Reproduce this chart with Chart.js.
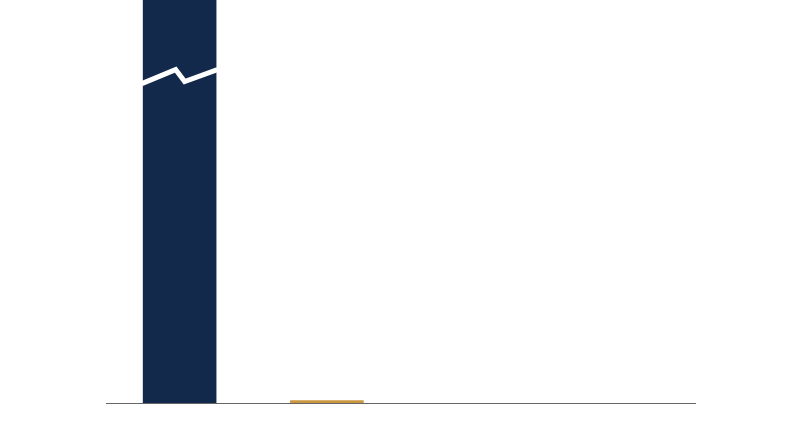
<!DOCTYPE html>
<html>
<head>
<meta charset="utf-8">
<script src="https://cdn.jsdelivr.net/npm/chart.js@4"></script>
<style>
  html, body { margin: 0; padding: 0; background: #fff; }
  #wrap { width: 800px; height: 447px; }
</style>
</head>
<body>
<div id="wrap"><canvas id="chart"></canvas></div>
<script>
const categories = ["A", "B", "C", "D"];
const seriesValues = [150, 0.7, 0, 0];
const barColors = ["#13294b", "#c9973f", "#13294b", "#c9973f"];
const axisMax = 100;
const breakValue = 81;

// white zigzag across the tall bar to show the axis break
const breakMark = {
  id: "breakMark",
  afterDatasetsDraw(chart) {
    const bar = chart.getDatasetMeta(0).data[0];
    if (!bar) return;
    const ctx = chart.ctx;
    const y = chart.scales.y.getPixelForValue(breakValue);
    const half = bar.width / 2;
    ctx.save();
    ctx.strokeStyle = "#ffffff";
    ctx.lineWidth = 5;
    ctx.lineJoin = "miter";
    ctx.beginPath();
    ctx.moveTo(bar.x - half - 1, y + 7);
    ctx.lineTo(bar.x - 4, y - 7);
    ctx.lineTo(bar.x + 5, y + 5);
    ctx.lineTo(bar.x + half + 1, y - 7);
    ctx.stroke();
    ctx.restore();
  },
};

new Chart(document.getElementById("chart"), {
  type: "bar",
  data: {
    labels: categories,
    datasets: [
      {
        data: seriesValues,
        backgroundColor: barColors,
        borderWidth: 0,
        categoryPercentage: 1,
        barPercentage: 0.5,
      },
    ],
  },
  options: {
    responsive: true,
    maintainAspectRatio: false,
    animation: false,
    layout: { padding: { left: 106, right: 105, top: 0, bottom: 36 } },
    plugins: { legend: { display: false }, tooltip: { enabled: false } },
    scales: {
      x: {
        grid: { display: false },
        ticks: { display: false },
        border: { display: true, color: "#666666", width: 1 },
      },
      y: {
        display: false,
        min: 0,
        max: axisMax,
      },
    },
  },
  plugins: [breakMark],
});
</script>
</body>
</html>
